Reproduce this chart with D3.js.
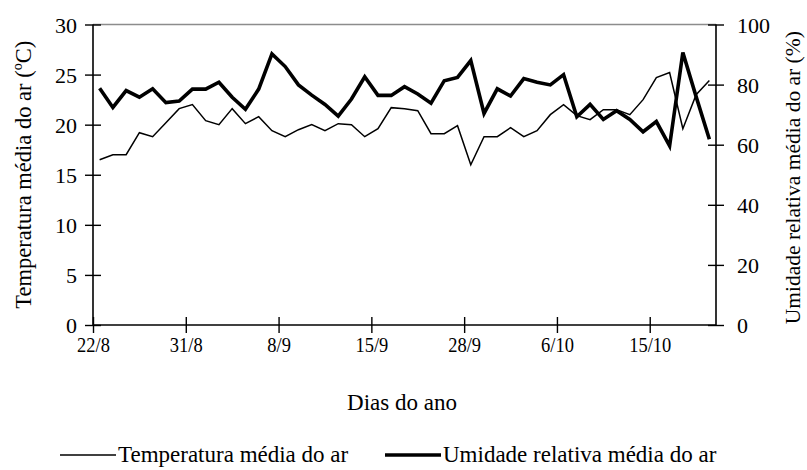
<!DOCTYPE html>
<html>
<head>
<meta charset="utf-8">
<script src="https://cdn.jsdelivr.net/npm/d3@7"></script>
<style>
html, body { margin: 0; padding: 0; background: #fff; }
svg text { font-family: "Liberation Serif", "Times New Roman", serif; fill: #000; }
</style>
</head>
<body>
<script>
// ---- data ----
const tickLabels = ["22/8", "31/8", "8/9", "15/9", "28/9", "6/10", "15/10"];
const tickEvery = 7;
const temperatura = [16.5, 17.0, 17.0, 19.2, 18.8, 20.2, 21.6, 22.0, 20.4, 20.0, 21.6, 20.1, 20.8, 19.4, 18.8, 19.5,
  20.0, 19.4, 20.1, 20.0, 18.8, 19.6, 21.7, 21.6, 21.4, 19.1, 19.1, 19.9, 16.0, 18.8, 18.8, 19.7,
  18.8, 19.4, 21.0, 22.0, 20.9, 20.5, 21.5, 21.5, 21.0, 22.5, 24.7, 25.2, 19.6, 23.0, 24.4];
const umidade = [78.8, 72.4, 78.0, 75.8, 78.6, 74.0, 74.5, 78.5, 78.5, 80.8, 75.8, 71.8, 78.5, 90.2, 86.0, 79.9,
  76.5, 73.4, 69.5, 75.2, 82.6, 76.4, 76.4, 79.3, 76.9, 73.8, 81.3, 82.4, 88.0, 70.4, 78.6, 76.2,
  82.0, 80.8, 79.9, 83.3, 69.3, 73.4, 68.4, 71.3, 68.4, 64.3, 67.7, 59.6, 90.7, 76.0, 61.8];
const categories = temperatura.map((d, i) => i);
const tempTicks = [0, 5, 10, 15, 20, 25, 30];
const umidTicks = [0, 20, 40, 60, 80, 100];
const seriesNames = ["Temperatura média do ar", "Umidade relativa média do ar"];

// ---- layout ----
const W = 807, H = 470;
const L = 93, R = 716, T = 24.5, B = 325;

const svg = d3.select("body").append("svg").attr("width", W).attr("height", H);

const x = d3.scaleLinear().domain([-0.5, categories.length - 0.5]).range([L, R]);
const yT = d3.scaleLinear().domain([0, 30]).range([B, T]);
const yU = d3.scaleLinear().domain([0, 100]).range([B, T]);

// top border
svg.append("line").attr("x1", L).attr("x2", R).attr("y1", T).attr("y2", T)
  .attr("stroke", "#8c8c8c").attr("stroke-width", 1.5);

// left axis
const gL = svg.append("g").attr("transform", `translate(${L},0)`)
  .call(d3.axisLeft(yT).tickValues(tempTicks).tickSize(8).tickPadding(8));
// right axis
const gR = svg.append("g").attr("transform", `translate(${R},0)`)
  .call(d3.axisRight(yU).tickValues(umidTicks).tickSize(8).tickPadding(13));
// bottom axis
const xTickVals = tickLabels.map((d, i) => i * tickEvery - 0.5);
const gB = svg.append("g").attr("transform", `translate(0,${B})`)
  .call(d3.axisBottom(x).tickValues(xTickVals).tickFormat((d, i) => tickLabels[i]).tickSize(8).tickPadding(12));

[gL, gR, gB].forEach(g => {
  g.attr("font-family", null).attr("font-size", null);
  g.select(".domain").attr("stroke", "#000").attr("stroke-width", 1.6);
  g.selectAll(".tick line").attr("stroke", "#000").attr("stroke-width", 1.4);
  g.selectAll(".tick text").attr("font-size", 22).attr("font-family", "Liberation Serif");
});
gL.selectAll(".domain").attr("d", `M0,${T}V${B}`);
gR.selectAll(".domain").attr("d", `M0,${T}V${B}`);
gB.selectAll(".domain").attr("d", `M${L},0H${R}`);
gL.selectAll(".tick line").attr("x1", 8).attr("x2", -8);
gR.selectAll(".tick line").attr("x1", -8).attr("x2", 8);
gB.selectAll(".tick line").attr("y1", -8).attr("y2", 8);
gL.selectAll(".tick text").attr("dy", "0.35em");
gR.selectAll(".tick text").attr("dy", "0.35em");
gB.selectAll(".tick text").attr("dy", "0").attr("y", 27)
  .each(function () {
    const w = this.getComputedTextLength();
    d3.select(this).attr("textLength", w * 0.84).attr("lengthAdjust", "spacingAndGlyphs");
  });

// lines
const lineT = d3.line().x((d, i) => x(categories[i])).y(d => yT(d));
const lineU = d3.line().x((d, i) => x(categories[i])).y(d => yU(d));
svg.append("path").datum(temperatura).attr("d", lineT)
  .attr("fill", "none").attr("stroke", "#000").attr("stroke-width", 1.5).attr("stroke-linejoin", "miter");
svg.append("path").datum(umidade).attr("d", lineU)
  .attr("fill", "none").attr("stroke", "#000").attr("stroke-width", 3.6).attr("stroke-linejoin", "miter");

// axis titles
svg.append("text").attr("transform", `translate(31,${(T + B) / 2}) rotate(-90)`)
  .attr("text-anchor", "middle").attr("font-size", 22.5).text("Temperatura média do ar (ºC)");
svg.append("text").attr("transform", `translate(800,${(T + B) / 2 + 3}) rotate(-90)`)
  .attr("text-anchor", "middle").attr("font-size", 21.5).text("Umidade relativa média do ar (%)");
svg.append("text").attr("x", 402).attr("y", 410)
  .attr("text-anchor", "middle").attr("font-size", 23).text("Dias do ano");

// legend
const leg = [
  { name: seriesNames[0], x1: 60, x2: 116, w: 1.5 },
  { name: seriesNames[1], x1: 385, x2: 441, w: 3.6 }
];
const lg = svg.append("g");
leg.forEach(d => {
  lg.append("line").attr("x1", d.x1).attr("x2", d.x2).attr("y1", 455).attr("y2", 455)
    .attr("stroke", "#000").attr("stroke-width", d.w);
  lg.append("text").attr("x", d.x2 + 2).attr("y", 462).attr("font-size", 23).text(d.name);
});
</script>
</body>
</html>
